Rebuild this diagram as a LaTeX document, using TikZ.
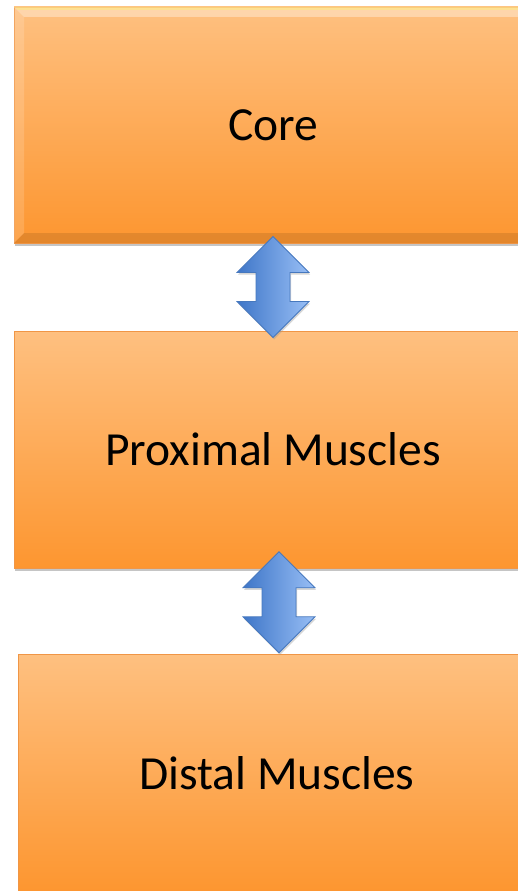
\documentclass[tikz,border=0pt]{standalone}
\usepackage{fontspec}
\setmainfont{Carlito}
\usetikzlibrary{calc,shadows,fadings}
\definecolor{orTop}{RGB}{254,192,128}
\definecolor{orBot}{RGB}{253,150,48}
\definecolor{orLine}{RGB}{240,150,70}
\definecolor{blDark}{RGB}{62,118,200}
\definecolor{blLight}{RGB}{152,190,245}
\definecolor{blLine}{RGB}{70,120,190}
\tikzset{
  box/.style={rectangle, draw=orLine, line width=0.8pt, top color=orTop, bottom color=orBot,
    minimum width=518pt, inner sep=0pt, font=\fontsize{47.5}{56}\selectfont,
    drop shadow={shadow xshift=1pt, shadow yshift=-3pt, fill=black!45, opacity=0.5}},
  dblarrow/.style={draw=blLine, line width=0.8pt, left color=blDark, right color=blLight,
    drop shadow={shadow xshift=1pt, shadow yshift=-2pt, fill=black!40, opacity=0.4}}
}
\begin{document}
\begin{tikzpicture}[x=1pt,y=-1pt]
\useasboundingbox (0,0) rectangle (518,891);
\fill[white] (0,0) rectangle (518,891);
\clip (0,0) rectangle (518,891);
\node[box, minimum height=236pt] (core) at (273,125) {};
% bevel on the Core box
\fill[white, opacity=0.35] (14,7) -- (532,7) -- (522,17) -- (24,17) -- cycle;
\fill[yellow!60!white, opacity=0.35] (14,7) -- (532,7) -- (528,10) -- (18,10) -- cycle;
\fill[white, opacity=0.15] (14,7) -- (24,17) -- (24,233) -- (14,243) -- cycle;
\fill[black, opacity=0.1] (14,243) -- (24,233) -- (522,233) -- (532,243) -- cycle;
\node[font=\fontsize{47.5}{56}\selectfont] (coretext) at (core) {Core};
\node[box, minimum height=237pt] (prox) at (273,449.5) {Proximal Muscles};
\node[box, minimum height=237pt] (dist) at (277,773) {Distal Muscles};
% double arrows
\coordinate (m1) at ($(core.south)!0.5!(prox.north)$);
\coordinate (m2) at ($(prox.south)!0.5!(dist.north)+(4,-9)$);
\foreach \m in {m1,m2}{
  \draw[dblarrow] ($(\m)+(0,-50.5)$) -- ($(\m)+(36,-14.5)$) -- ($(\m)+(17,-14.5)$)
    -- ($(\m)+(17,14.5)$) -- ($(\m)+(36,14.5)$) -- ($(\m)+(0,50.5)$)
    -- ($(\m)+(-36,14.5)$) -- ($(\m)+(-17,14.5)$) -- ($(\m)+(-17,-14.5)$)
    -- ($(\m)+(-36,-14.5)$) -- cycle;
}
\end{tikzpicture}
\end{document}
